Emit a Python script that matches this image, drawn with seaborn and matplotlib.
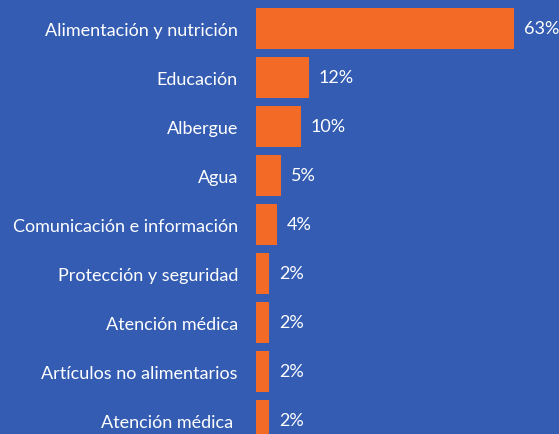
import numpy as np
import pandas as pd
import seaborn as sns
import matplotlib.pyplot as plt

# datos
categorias = ["Alimentación y nutrición", "Educación", "Albergue", "Agua",
              "Comunicación e información", "Protección y seguridad",
              "Atención médica", "Artículos no alimentarios", "Atención médica "]
valores = [63, 12.9, 11, 6.1, 5.1, 3.2, 3.2, 3.2, 3.2]
etiquetas = ["63%", "12%", "10%", "5%", "4%", "2%", "2%", "2%", "2%"]

fondo = "#335CB2"
naranja = "#F36A27"

df = pd.DataFrame({"cat": categorias, "val": valores})

sns.set_theme(style="white")
plt.rcParams['font.family'] = ['Lato', 'DejaVu Sans']

fig = plt.figure(figsize=(5.59, 4.35), dpi=100, facecolor=fondo)
ax = fig.add_axes([256 / 559, 0, 303 / 559, 1])
ax.set_facecolor(fondo)

sns.barplot(data=df, x="val", y="cat", orient="h", color=naranja,
            width=0.84, saturation=1, linewidth=0, ax=ax)

for i, (v, t) in enumerate(zip(valores, etiquetas)):
    ax.text(v + 2.4, i, t, color="white", fontsize=13,
            va="center", ha="left")

ax.set_xlim(0, 74)
ax.set_ylim(8.276, -0.602)
ax.set_xlabel("")
ax.set_ylabel("")
ax.set_xticks([])
ax.tick_params(axis="y", length=0, pad=13, labelsize=13, labelcolor="white")
sns.despine(ax=ax, left=True, bottom=True)

plt.savefig("out.png", dpi=100, facecolor=fondo)
